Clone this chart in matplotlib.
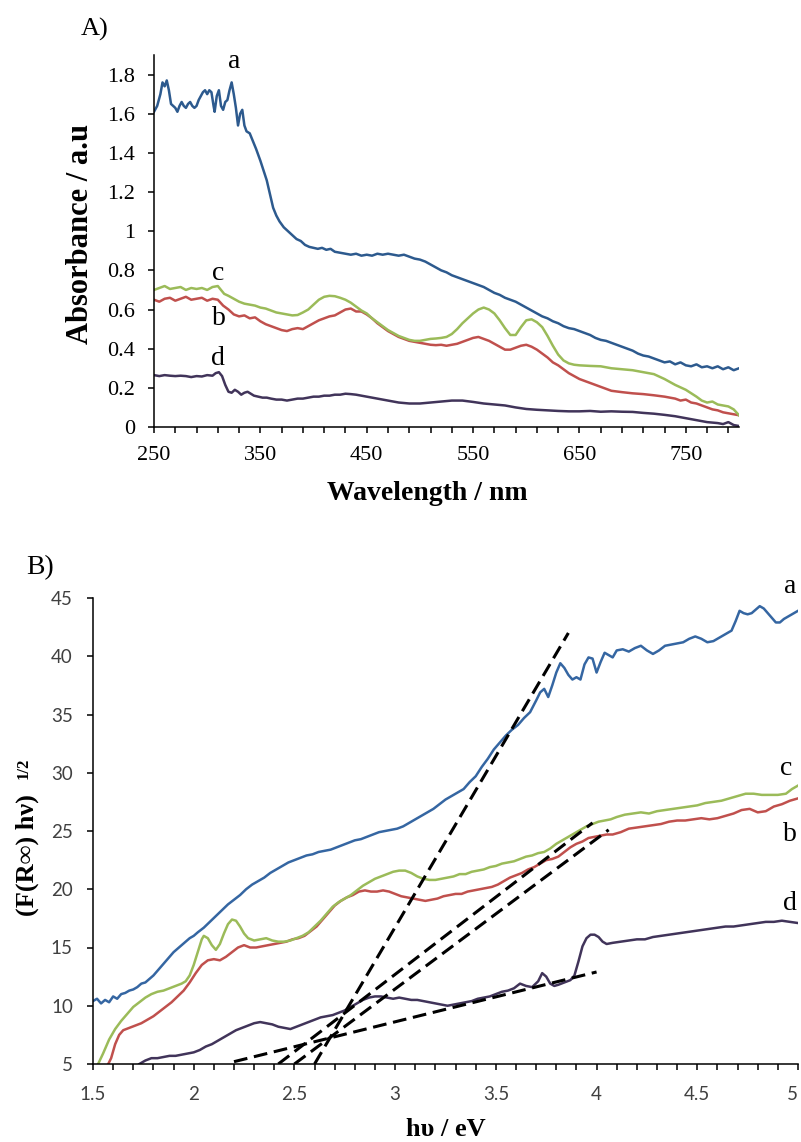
import matplotlib
matplotlib.use('Agg')
import matplotlib.pyplot as plt
from matplotlib.ticker import FixedLocator, FuncFormatter

# ---------- panel A: absorbance vs wavelength ----------
wl_a = [250, 253, 256, 258, 260, 262, 264, 266, 268, 270, 272, 274, 276, 278, 280, 282, 284, 286, 288, 290,
        292, 294, 296, 298, 300, 302, 304, 306, 307, 309, 311, 313, 315, 317, 319, 321, 323, 325, 327, 329,
        331, 333, 335, 337, 340, 343, 346, 350, 353, 356, 359, 362, 365, 368, 372, 376, 380, 384, 388, 392,
        396, 400, 404, 408, 412, 416, 420, 425, 430, 435, 440, 445, 450, 455, 460, 465, 470, 475, 480, 485,
        490, 495, 500, 505, 510, 515, 520, 525, 530, 535, 540, 545, 550, 555, 560, 565, 570, 575, 580, 585,
        590, 595, 600, 605, 610, 615, 620, 625, 630, 635, 640, 645, 650, 655, 660, 665, 670, 675, 680, 685,
        690, 695, 700, 705, 710, 715, 720, 725, 730, 735, 740, 745, 750, 755, 760, 765, 770, 775, 780, 785,
        790, 795, 800]
abs_a = [1.61, 1.64, 1.70, 1.76, 1.74, 1.77, 1.72, 1.65, 1.64, 1.63, 1.61, 1.64, 1.66, 1.64, 1.63, 1.65, 1.66, 1.64, 1.63, 1.64,
         1.67, 1.69, 1.71, 1.72, 1.70, 1.72, 1.71, 1.64, 1.61, 1.69, 1.72, 1.64, 1.62, 1.66, 1.67, 1.72, 1.76, 1.70, 1.63, 1.54,
         1.60, 1.62, 1.54, 1.51, 1.50, 1.46, 1.42, 1.36, 1.31, 1.26, 1.19, 1.12, 1.08, 1.05, 1.02, 1.00, 0.98, 0.96, 0.95, 0.93,
         0.92, 0.915, 0.91, 0.915, 0.905, 0.91, 0.895, 0.89, 0.885, 0.88, 0.885, 0.875, 0.88, 0.875, 0.885, 0.88, 0.885, 0.88, 0.875, 0.88,
         0.87, 0.86, 0.855, 0.845, 0.83, 0.815, 0.80, 0.79, 0.775, 0.765, 0.755, 0.745, 0.735, 0.725, 0.715, 0.70, 0.685, 0.675, 0.66, 0.65,
         0.64, 0.625, 0.61, 0.595, 0.58, 0.565, 0.555, 0.54, 0.53, 0.515, 0.505, 0.50, 0.49, 0.48, 0.47, 0.455, 0.445, 0.44, 0.43, 0.42,
         0.41, 0.40, 0.39, 0.375, 0.365, 0.36, 0.35, 0.34, 0.33, 0.335, 0.32, 0.33, 0.315, 0.31, 0.32, 0.305, 0.31, 0.30, 0.31, 0.295,
         0.305, 0.29, 0.30]

wl_b = [250, 255, 260, 265, 270, 275, 280, 285, 290, 295, 300, 305, 310, 315, 320, 325, 330, 335, 340, 345,
        350, 355, 360, 365, 370, 375, 380, 385, 390, 395, 400, 405, 410, 415, 420, 425, 430, 435, 440, 445,
        450, 455, 460, 465, 470, 475, 480, 485, 490, 495, 500, 505, 510, 515, 520, 525, 530, 535, 540, 545,
        550, 555, 560, 565, 570, 575, 580, 585, 590, 595, 600, 605, 610, 615, 620, 625, 630, 635, 640, 645,
        650, 655, 660, 665, 670, 675, 680, 690, 700, 710, 720, 730, 740, 745, 750, 755, 760, 765, 770, 775,
        780, 785, 790, 795, 800]
abs_b = [0.65, 0.64, 0.655, 0.66, 0.645, 0.655, 0.665, 0.65, 0.655, 0.66, 0.645, 0.655, 0.65, 0.62, 0.60, 0.575, 0.565, 0.57, 0.555, 0.56,
         0.54, 0.525, 0.515, 0.505, 0.495, 0.49, 0.50, 0.505, 0.50, 0.515, 0.53, 0.545, 0.555, 0.565, 0.57, 0.585, 0.60, 0.605, 0.59, 0.59,
         0.575, 0.555, 0.53, 0.51, 0.49, 0.475, 0.46, 0.45, 0.44, 0.435, 0.43, 0.425, 0.42, 0.418, 0.42, 0.415, 0.42, 0.425, 0.435, 0.445,
         0.455, 0.46, 0.45, 0.44, 0.425, 0.41, 0.395, 0.395, 0.405, 0.415, 0.42, 0.41, 0.395, 0.375, 0.355, 0.33, 0.315, 0.295, 0.275, 0.26,
         0.245, 0.235, 0.225, 0.215, 0.205, 0.195, 0.185, 0.178, 0.172, 0.168, 0.162, 0.155, 0.145, 0.135, 0.14, 0.125, 0.12, 0.11, 0.10, 0.09,
         0.085, 0.075, 0.07, 0.065, 0.06]

wl_c = [250, 255, 260, 265, 270, 275, 280, 285, 290, 295, 300, 305, 310, 313, 316, 320, 325, 330, 335, 340,
        345, 350, 355, 360, 365, 370, 375, 380, 385, 390, 395, 400, 405, 410, 415, 420, 425, 430, 435, 440,
        445, 450, 455, 460, 465, 470, 475, 480, 485, 490, 495, 500, 505, 510, 515, 520, 525, 530, 535, 540,
        545, 550, 555, 560, 565, 570, 575, 580, 585, 590, 595, 600, 605, 610, 615, 620, 625, 630, 635, 640,
        645, 650, 660, 670, 680, 690, 700, 710, 720, 730, 740, 750, 760, 765, 770, 775, 780, 785, 790, 795,
        800]
abs_c = [0.70, 0.71, 0.72, 0.705, 0.71, 0.715, 0.70, 0.71, 0.705, 0.71, 0.70, 0.715, 0.72, 0.70, 0.68, 0.67, 0.655, 0.64, 0.63, 0.625,
         0.62, 0.61, 0.605, 0.595, 0.585, 0.58, 0.575, 0.57, 0.572, 0.585, 0.60, 0.625, 0.65, 0.665, 0.67, 0.668, 0.66, 0.65, 0.635, 0.615,
         0.595, 0.58, 0.555, 0.535, 0.515, 0.495, 0.48, 0.465, 0.455, 0.445, 0.44, 0.44, 0.445, 0.45, 0.452, 0.455, 0.46, 0.475, 0.50, 0.53,
         0.555, 0.58, 0.60, 0.61, 0.60, 0.58, 0.545, 0.505, 0.47, 0.47, 0.51, 0.545, 0.55, 0.535, 0.51, 0.465, 0.415, 0.37, 0.34, 0.325,
         0.318, 0.315, 0.312, 0.31, 0.30, 0.295, 0.29, 0.28, 0.27, 0.245, 0.215, 0.19, 0.155, 0.135, 0.125, 0.13, 0.115, 0.11, 0.105, 0.09,
         0.06]

wl_d = [250, 255, 260, 265, 270, 275, 280, 285, 290, 295, 300, 305, 308, 311, 314, 317, 320, 323, 326, 329,
        332, 335, 338, 341, 344, 348, 352, 356, 360, 365, 370, 375, 380, 385, 390, 395, 400, 405, 410, 415,
        420, 425, 430, 435, 440, 445, 450, 455, 460, 465, 470, 475, 480, 490, 500, 510, 520, 530, 540, 550,
        560, 570, 580, 590, 600, 610, 620, 630, 640, 650, 660, 670, 680, 690, 700, 710, 720, 730, 740, 750,
        760, 770, 780, 785, 790, 795, 800]
abs_d = [0.265, 0.26, 0.265, 0.262, 0.26, 0.262, 0.26, 0.255, 0.26, 0.258, 0.265, 0.262, 0.275, 0.28, 0.26, 0.215, 0.18, 0.175, 0.19, 0.18,
         0.165, 0.175, 0.18, 0.17, 0.16, 0.155, 0.15, 0.15, 0.145, 0.14, 0.14, 0.135, 0.14, 0.145, 0.145, 0.15, 0.155, 0.155, 0.16, 0.16,
         0.165, 0.165, 0.17, 0.168, 0.165, 0.16, 0.155, 0.15, 0.145, 0.14, 0.135, 0.13, 0.125, 0.12, 0.12, 0.125, 0.13, 0.135, 0.135, 0.128,
         0.12, 0.115, 0.11, 0.10, 0.092, 0.088, 0.085, 0.082, 0.08, 0.08, 0.082, 0.078, 0.08, 0.078, 0.077, 0.072, 0.068, 0.062, 0.055, 0.045,
         0.035, 0.025, 0.02, 0.015, 0.025, 0.01, 0.005]

# ---------- panel B: (F(R) hv)^1/2 vs photon energy ----------
ev_a = [1.50, 1.52, 1.54, 1.56, 1.58, 1.60, 1.62, 1.64, 1.66, 1.68, 1.70, 1.72, 1.74, 1.76, 1.78, 1.80, 1.82, 1.84, 1.86, 1.88,
        1.90, 1.92, 1.94, 1.96, 1.98, 2.00, 2.02, 2.05, 2.08, 2.11, 2.14, 2.17, 2.20, 2.23, 2.26, 2.29, 2.32, 2.35, 2.38, 2.41,
        2.44, 2.47, 2.50, 2.53, 2.56, 2.59, 2.62, 2.65, 2.68, 2.71, 2.74, 2.77, 2.80, 2.83, 2.86, 2.89, 2.92, 2.95, 2.98, 3.01,
        3.04, 3.07, 3.10, 3.13, 3.16, 3.19, 3.22, 3.25, 3.28, 3.31, 3.34, 3.37, 3.40, 3.43, 3.46, 3.49, 3.52, 3.55, 3.58, 3.61,
        3.64, 3.67, 3.70, 3.72, 3.74, 3.76, 3.78, 3.80, 3.82, 3.84, 3.86, 3.88, 3.90, 3.92, 3.94, 3.96, 3.98, 4.00, 4.02, 4.04,
        4.06, 4.08, 4.10, 4.13, 4.16, 4.19, 4.22, 4.25, 4.28, 4.31, 4.34, 4.37, 4.40, 4.43, 4.46, 4.49, 4.52, 4.55, 4.58, 4.61,
        4.64, 4.67, 4.69, 4.71, 4.73, 4.75, 4.77, 4.79, 4.81, 4.83, 4.85, 4.87, 4.89, 4.91, 4.93, 4.95, 4.97, 5.00]
kub_a = [10.4, 10.6, 10.2, 10.5, 10.3, 10.8, 10.6, 11.0, 11.1, 11.3, 11.4, 11.6, 11.9, 12.0, 12.3, 12.6, 13.0, 13.4, 13.8, 14.2,
         14.6, 14.9, 15.2, 15.5, 15.8, 16.0, 16.3, 16.7, 17.2, 17.7, 18.2, 18.7, 19.1, 19.5, 20.0, 20.4, 20.7, 21.0, 21.4, 21.7,
         22.0, 22.3, 22.5, 22.7, 22.9, 23.0, 23.2, 23.3, 23.4, 23.6, 23.8, 24.0, 24.2, 24.3, 24.5, 24.7, 24.9, 25.0, 25.1, 25.2,
         25.4, 25.7, 26.0, 26.3, 26.6, 26.9, 27.3, 27.7, 28.0, 28.3, 28.6, 29.2, 29.7, 30.5, 31.2, 32.0, 32.6, 33.2, 33.7, 34.1,
         34.7, 35.2, 36.2, 36.9, 37.2, 36.5, 37.5, 38.6, 39.4, 39.0, 38.4, 38.0, 38.2, 38.0, 39.3, 39.9, 39.8, 38.6, 39.5, 40.3,
         40.1, 39.9, 40.5, 40.6, 40.4, 40.7, 40.9, 40.5, 40.2, 40.5, 40.9, 41.0, 41.1, 41.2, 41.5, 41.7, 41.5, 41.2, 41.3, 41.6,
         41.9, 42.2, 43.0, 43.9, 43.7, 43.6, 43.7, 44.0, 44.3, 44.1, 43.7, 43.3, 42.9, 42.9, 43.2, 43.4, 43.6, 43.9]

ev_b = [1.57, 1.59, 1.61, 1.63, 1.65, 1.68, 1.71, 1.74, 1.77, 1.80, 1.83, 1.86, 1.89, 1.92, 1.95, 1.98, 2.01, 2.04, 2.07, 2.10,
        2.13, 2.16, 2.19, 2.22, 2.25, 2.28, 2.31, 2.34, 2.37, 2.40, 2.43, 2.46, 2.49, 2.52, 2.55, 2.58, 2.61, 2.64, 2.67, 2.70,
        2.73, 2.76, 2.79, 2.82, 2.85, 2.88, 2.91, 2.94, 2.97, 3.00, 3.03, 3.06, 3.09, 3.12, 3.15, 3.18, 3.21, 3.24, 3.27, 3.30,
        3.33, 3.36, 3.39, 3.42, 3.45, 3.48, 3.51, 3.54, 3.57, 3.60, 3.63, 3.66, 3.69, 3.72, 3.75, 3.78, 3.81, 3.84, 3.87, 3.90,
        3.93, 3.96, 3.99, 4.02, 4.05, 4.08, 4.12, 4.16, 4.20, 4.24, 4.28, 4.32, 4.36, 4.40, 4.44, 4.48, 4.52, 4.56, 4.60, 4.64,
        4.68, 4.72, 4.76, 4.80, 4.84, 4.88, 4.92, 4.96, 5.00]
kub_b = [4.8, 5.5, 6.7, 7.5, 7.9, 8.1, 8.3, 8.5, 8.8, 9.1, 9.5, 9.9, 10.3, 10.8, 11.3, 12.0, 12.8, 13.5, 13.9, 14.0,
         13.9, 14.2, 14.6, 15.0, 15.2, 15.0, 15.0, 15.1, 15.2, 15.3, 15.4, 15.5, 15.7, 15.8, 16.0, 16.4, 16.8, 17.4, 18.0, 18.6,
         19.0, 19.3, 19.5, 19.8, 19.9, 19.8, 19.8, 19.9, 19.8, 19.6, 19.4, 19.3, 19.2, 19.1, 19.0, 19.1, 19.2, 19.4, 19.5, 19.6,
         19.6, 19.8, 19.9, 20.0, 20.1, 20.2, 20.4, 20.7, 21.0, 21.2, 21.4, 21.7, 21.9, 22.2, 22.5, 22.6, 22.8, 23.2, 23.6, 23.9,
         24.1, 24.4, 24.5, 24.6, 24.7, 24.7, 24.9, 25.2, 25.3, 25.4, 25.5, 25.6, 25.8, 25.9, 25.9, 26.0, 26.1, 26.0, 26.1, 26.3,
         26.5, 26.8, 26.9, 26.6, 26.7, 27.1, 27.3, 27.6, 27.8]

ev_c = [1.52, 1.55, 1.58, 1.61, 1.64, 1.67, 1.70, 1.73, 1.76, 1.79, 1.82, 1.85, 1.88, 1.91, 1.94, 1.96, 1.98, 2.00, 2.02, 2.04,
        2.05, 2.07, 2.09, 2.11, 2.13, 2.15, 2.17, 2.19, 2.21, 2.23, 2.25, 2.27, 2.30, 2.33, 2.36, 2.39, 2.42, 2.45, 2.48, 2.51,
        2.54, 2.57, 2.60, 2.63, 2.66, 2.69, 2.72, 2.75, 2.78, 2.81, 2.84, 2.87, 2.90, 2.93, 2.96, 2.99, 3.02, 3.05, 3.08, 3.11,
        3.14, 3.17, 3.20, 3.23, 3.26, 3.29, 3.32, 3.35, 3.38, 3.41, 3.44, 3.47, 3.50, 3.53, 3.56, 3.59, 3.62, 3.65, 3.68, 3.71,
        3.74, 3.77, 3.80, 3.83, 3.86, 3.89, 3.92, 3.95, 3.98, 4.01, 4.04, 4.07, 4.10, 4.14, 4.18, 4.22, 4.26, 4.30, 4.34, 4.38,
        4.42, 4.46, 4.50, 4.54, 4.58, 4.62, 4.66, 4.70, 4.74, 4.78, 4.82, 4.86, 4.90, 4.94, 4.97, 5.00]
kub_c = [4.8, 5.9, 7.1, 8.0, 8.7, 9.3, 9.9, 10.3, 10.7, 11.0, 11.2, 11.3, 11.5, 11.7, 11.9, 12.1, 12.6, 13.5, 14.6, 15.7,
         16.0, 15.8, 15.2, 14.8, 15.3, 16.2, 17.0, 17.4, 17.3, 16.8, 16.2, 15.8, 15.6, 15.7, 15.8, 15.6, 15.5, 15.5, 15.6, 15.8,
         16.0, 16.3, 16.8, 17.3, 17.9, 18.5, 18.9, 19.2, 19.5, 19.9, 20.3, 20.6, 20.9, 21.1, 21.3, 21.5, 21.6, 21.6, 21.4, 21.1,
         20.9, 20.8, 20.8, 20.9, 21.0, 21.1, 21.3, 21.3, 21.5, 21.6, 21.7, 21.9, 22.0, 22.2, 22.3, 22.4, 22.6, 22.8, 22.9, 23.1,
         23.2, 23.5, 23.9, 24.2, 24.5, 24.8, 25.1, 25.4, 25.6, 25.8, 25.9, 26.0, 26.2, 26.4, 26.5, 26.6, 26.5, 26.7, 26.8, 26.9,
         27.0, 27.1, 27.2, 27.4, 27.5, 27.6, 27.8, 28.0, 28.2, 28.2, 28.1, 28.1, 28.1, 28.2, 28.6, 28.9]

ev_d = [1.73, 1.76, 1.79, 1.82, 1.85, 1.88, 1.91, 1.94, 1.97, 2.00, 2.03, 2.06, 2.09, 2.12, 2.15, 2.18, 2.21, 2.24, 2.27, 2.30,
        2.33, 2.36, 2.39, 2.42, 2.45, 2.48, 2.51, 2.54, 2.57, 2.60, 2.63, 2.66, 2.69, 2.72, 2.75, 2.78, 2.81, 2.84, 2.87, 2.90,
        2.93, 2.96, 2.99, 3.02, 3.05, 3.08, 3.11, 3.14, 3.17, 3.20, 3.23, 3.26, 3.29, 3.32, 3.35, 3.38, 3.41, 3.44, 3.47, 3.50,
        3.53, 3.56, 3.59, 3.62, 3.65, 3.68, 3.71, 3.73, 3.75, 3.77, 3.79, 3.81, 3.84, 3.87, 3.89, 3.91, 3.93, 3.95, 3.97, 3.99,
        4.01, 4.03, 4.05, 4.08, 4.12, 4.16, 4.20, 4.24, 4.28, 4.32, 4.36, 4.40, 4.44, 4.48, 4.52, 4.56, 4.60, 4.64, 4.68, 4.72,
        4.76, 4.80, 4.84, 4.88, 4.92, 4.96, 5.00]
kub_d = [5.0, 5.3, 5.5, 5.5, 5.6, 5.7, 5.7, 5.8, 5.9, 6.0, 6.2, 6.5, 6.7, 7.0, 7.3, 7.6, 7.9, 8.1, 8.3, 8.5,
         8.6, 8.5, 8.4, 8.2, 8.1, 8.0, 8.2, 8.4, 8.6, 8.8, 9.0, 9.1, 9.2, 9.4, 9.6, 9.9, 10.2, 10.5, 10.7, 10.8,
         10.8, 10.7, 10.6, 10.7, 10.6, 10.5, 10.5, 10.4, 10.3, 10.2, 10.1, 10.0, 10.1, 10.2, 10.3, 10.4, 10.6, 10.7, 10.8, 11.0,
         11.2, 11.3, 11.5, 11.9, 11.7, 11.6, 12.1, 12.8, 12.5, 11.9, 11.7, 11.8, 12.0, 12.2, 12.6, 13.8, 15.1, 15.8, 16.1, 16.1,
         15.9, 15.5, 15.3, 15.4, 15.5, 15.6, 15.7, 15.7, 15.9, 16.0, 16.1, 16.2, 16.3, 16.4, 16.5, 16.6, 16.7, 16.8, 16.8, 16.9,
         17.0, 17.1, 17.2, 17.2, 17.3, 17.2, 17.1]

# tangent (band gap extrapolation) lines: end points (eV, value)
fit_a = ([2.60, 3.86], [5.0, 42.0])
fit_c = ([2.42, 3.98], [5.0, 25.7])
fit_b = ([2.50, 4.06], [5.0, 25.1])
fit_d = ([2.20, 4.00], [5.2, 12.9])

col_b = '#C0504D'
col_c = '#9BBB59'
col_d = '#41345A'

serif = 'Liberation Serif'
W, H = 801, 1142


def fxy(x, y):
    # pixel position -> figure fraction
    return x / W, 1 - y / H


fig = plt.figure(figsize=(W / 100, H / 100), dpi=100)

# ---------------- panel A ----------------
ax1 = fig.add_axes([154 / W, 1 - 427 / H, (739 - 154) / W, (427 - 55) / H])
ax1.plot(wl_a, abs_a, color='#2D5A8E', lw=1.8)
ax1.plot(wl_b, abs_b, color=col_b, lw=1.8)
ax1.plot(wl_c, abs_c, color=col_c, lw=1.8)
ax1.plot(wl_d, abs_d, color=col_d, lw=1.8)
ax1.set_xlim(250, 800)
ax1.set_ylim(0, 1.9)
ax1.xaxis.set_major_locator(FixedLocator([250, 350, 450, 550, 650, 750]))
ax1.xaxis.set_minor_locator(FixedLocator(list(range(270, 800, 20))))
ax1.yaxis.set_major_locator(FixedLocator([0, 0.2, 0.4, 0.6, 0.8, 1.0, 1.2, 1.4, 1.6, 1.8]))
ax1.yaxis.set_major_formatter(FuncFormatter(lambda v, p: '%g' % round(v, 1)))
ax1.tick_params(axis='both', which='both', direction='out', length=4.5, width=1.1, color='black')
ax1.tick_params(axis='x', which='major', labelsize=16, pad=9)
ax1.tick_params(axis='y', which='major', labelsize=16, pad=9)
for lab in ax1.get_xticklabels() + ax1.get_yticklabels():
    lab.set_fontfamily(serif)
for s in ['top', 'right']:
    ax1.spines[s].set_visible(False)
for s in ['left', 'bottom']:
    ax1.spines[s].set_linewidth(1.1)

ax1.text(325.5, 1.836, 'a', fontsize=20, family=serif, ha='center', va='baseline', clip_on=False)
ax1.text(310.5, 0.752, 'c', fontsize=20, family=serif, ha='center', va='baseline')
ax1.text(311, 0.522, 'b', fontsize=20, family=serif, ha='center', va='baseline')
ax1.text(310.5, 0.317, 'd', fontsize=20, family=serif, ha='center', va='baseline')

fig.text(*fxy(95, 29), 'A)', fontsize=19, family=serif, ha='center', va='center')
fig.text(*fxy(427, 493), 'Wavelength / nm', fontsize=20, family=serif, fontweight='bold',
         ha='center', va='center')
fig.text(*fxy(81, 234), 'Absorbance / a.u', fontsize=22, family=serif, fontweight='bold',
         ha='center', va='center', rotation=90)

# ---------------- panel B ----------------
ax2 = fig.add_axes([93 / W, 1 - 1064 / H, (798 - 93) / W, (1064 - 598) / H])
ax2.plot(ev_a, kub_a, color='#3566A2', lw=1.8)
ax2.plot(ev_b, kub_b, color=col_b, lw=1.8)
ax2.plot(ev_c, kub_c, color=col_c, lw=1.8)
ax2.plot(ev_d, kub_d, color=col_d, lw=1.8)
for fx, fy in [fit_a, fit_c, fit_b, fit_d]:
    ax2.plot(fx, fy, color='black', lw=2.2, dashes=(4.5, 2.2))
ax2.set_xlim(1.5, 5)
ax2.set_ylim(5, 45)
ax2.xaxis.set_major_locator(FixedLocator([1.5, 2, 2.5, 3, 3.5, 4, 4.5, 5]))
ax2.xaxis.set_minor_locator(FixedLocator([1.5 + 0.1 * i for i in range(36)]))
ax2.yaxis.set_major_locator(FixedLocator([5, 10, 15, 20, 25, 30, 35, 40, 45]))
ax2.xaxis.set_major_formatter(FuncFormatter(lambda v, p: '%g' % v))
ax2.tick_params(axis='both', which='both', direction='out', length=4.5, width=1.1, color='black')
ax2.tick_params(axis='x', which='major', labelsize=13.5, pad=11, labelcolor='#404040')
ax2.tick_params(axis='y', which='major', labelsize=13.5, pad=10, labelcolor='#404040')
for lab in ax2.get_xticklabels() + ax2.get_yticklabels():
    lab.set_fontfamily('Lato')
# last x label sits at the figure edge: right-align it so it stays inside
ax2.get_xticklabels()[-1].set_horizontalalignment('right')
for s in ['top', 'right']:
    ax2.spines[s].set_visible(False)
for s in ['left', 'bottom']:
    ax2.spines[s].set_linewidth(1.1)

ax2.text(4.96, 45.45, 'a', fontsize=20, family=serif, ha='center', va='baseline', clip_on=False)
ax2.text(4.94, 29.8, 'c', fontsize=20, family=serif, ha='center', va='baseline', clip_on=False)
ax2.text(4.96, 24.1, 'b', fontsize=20, family=serif, ha='center', va='baseline', clip_on=False)
ax2.text(4.96, 18.26, 'd', fontsize=20, family=serif, ha='center', va='baseline', clip_on=False)

fig.text(*fxy(40, 568), 'B)', fontsize=20, family=serif, ha='center', va='center')
fig.text(*fxy(446, 1129), 'h\u03c5 / eV', fontsize=19, family=serif, fontweight='bold',
         ha='center', va='center')
fig.text(*fxy(27, 855), '(F(R\u221e) h\u03bd)', fontsize=19, family=serif, fontweight='bold',
         ha='center', va='center', rotation=90)
fig.text(*fxy(24, 768), '1/2', fontsize=12, family=serif, fontweight='bold',
         ha='center', va='center', rotation=90)

fig.savefig('out.png', dpi=100)
